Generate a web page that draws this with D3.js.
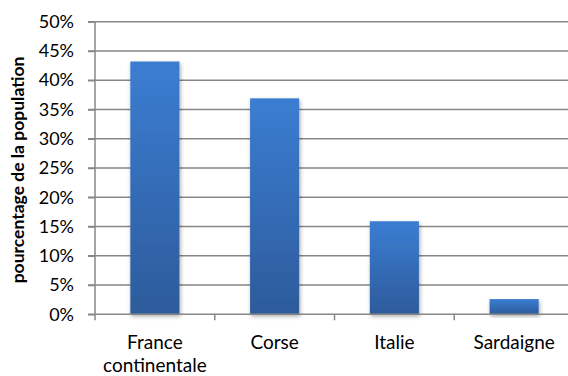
<!DOCTYPE html>
<html>
<head>
<meta charset="utf-8">
<script src="https://cdn.jsdelivr.net/npm/d3@7"></script>
<style>
  html, body { margin: 0; padding: 0; background: #fff; }
  svg { display: block; }
  text { font-family: "Lato", "Liberation Sans", sans-serif; fill: #000; }
</style>
</head>
<body>
<script>
// Share of the population by region
const categories = ["France continentale", "Corse", "Italie", "Sardaigne"];
const values = [0.432, 0.369, 0.159, 0.026];
const yTicks = [0, 0.05, 0.10, 0.15, 0.20, 0.25, 0.30, 0.35, 0.40, 0.45, 0.50];
const yTitle = "pourcentage de la population";

const W = 568, H = 376;
const margin = { left: 95, top: 21.7, bottom: 376 - 314.3 };
const plotRight = 574;

const svg = d3.select("body").append("svg").attr("width", W).attr("height", H);

const defs = svg.append("defs");
const grad = defs.append("linearGradient").attr("id", "barGrad")
  .attr("x1", 0).attr("y1", 0).attr("x2", 0).attr("y2", 1);
grad.append("stop").attr("offset", "0%").attr("stop-color", "#3b7dd2");
grad.append("stop").attr("offset", "100%").attr("stop-color", "#2d5b9b");

const shadow = defs.append("filter").attr("id", "barShadow")
  .attr("x", "-30%").attr("y", "-10%").attr("width", "160%").attr("height", "130%");
shadow.append("feGaussianBlur").attr("in", "SourceAlpha").attr("stdDeviation", 2.2).attr("result", "b");
shadow.append("feOffset").attr("in", "b").attr("dx", 1).attr("dy", 2).attr("result", "o");
shadow.append("feComponentTransfer").attr("in", "o").attr("result", "s")
  .append("feFuncA").attr("type", "linear").attr("slope", 0.35);
const merge = shadow.append("feMerge");
merge.append("feMergeNode").attr("in", "s");
merge.append("feMergeNode").attr("in", "SourceGraphic");

const y = d3.scaleLinear().domain([0, 0.5]).range([H - margin.bottom, margin.top]);
const x = d3.scaleBand().domain(categories).range([margin.left, plotRight])
  .paddingInner(0.59).paddingOuter(0.295);
const xb = d3.scaleBand().domain(categories).range([margin.left, plotRight]);

// horizontal gridlines
svg.append("g").selectAll("line").data(yTicks.slice(1)).join("line")
  .attr("x1", 88).attr("x2", plotRight)
  .attr("y1", d => y(d)).attr("y2", d => y(d))
  .attr("stroke", "#878787").attr("stroke-width", 1.5);

// bars
svg.append("g").selectAll("rect").data(values).join("rect")
  .attr("x", (d, i) => x(categories[i]))
  .attr("width", x.bandwidth())
  .attr("y", d => y(d))
  .attr("height", d => y(0) - y(d))
  .attr("fill", "url(#barGrad)")
  .attr("filter", "url(#barShadow)");

// y axis
const yAxis = d3.axisLeft(y).tickValues(yTicks).tickSize(7).tickPadding(14)
  .tickFormat(d3.format(".0%"));
const gy = svg.append("g").attr("transform", `translate(${margin.left},0)`).call(yAxis);
gy.select(".domain").attr("stroke", "#878787").attr("stroke-width", 1.5)
  .attr("d", `M0,${margin.top}V${y(0) + 6}`);
gy.selectAll(".tick line").attr("stroke", "#878787").attr("stroke-width", 1.5);
gy.selectAll(".tick text").attr("font-size", 18).attr("font-family", "Lato, sans-serif").attr("fill", "#000");

// x axis
const gx = svg.append("g").attr("transform", `translate(0,${y(0)})`);
gx.append("line").attr("x1", 88).attr("x2", plotRight).attr("y1", 0).attr("y2", 0)
  .attr("stroke", "#878787").attr("stroke-width", 1.5);
gx.selectAll("line.tick").data(categories.slice(1)).join("line").attr("class", "tick")
  .attr("x1", d => xb(d)).attr("x2", d => xb(d)).attr("y1", 0).attr("y2", 6)
  .attr("stroke", "#878787").attr("stroke-width", 1.5);

// category labels, wrapped on spaces
const lab = gx.selectAll("text.cat").data(categories).join("text").attr("class", "cat")
  .attr("text-anchor", "middle").attr("font-size", 19)
  .attr("transform", d => `translate(${xb(d) + xb.bandwidth() / 2},35)`);
lab.each(function (d) {
  const words = d.split(" ");
  const t = d3.select(this);
  words.forEach((w, i) => t.append("tspan").attr("x", 0).attr("dy", i === 0 ? 0 : 23).text(w));
});

// y title
svg.append("text")
  .attr("transform", `translate(24,170) rotate(-90)`)
  .attr("text-anchor", "middle").attr("font-size", 17.5).attr("font-weight", "bold")
  .text(yTitle);
</script>
</body>
</html>
